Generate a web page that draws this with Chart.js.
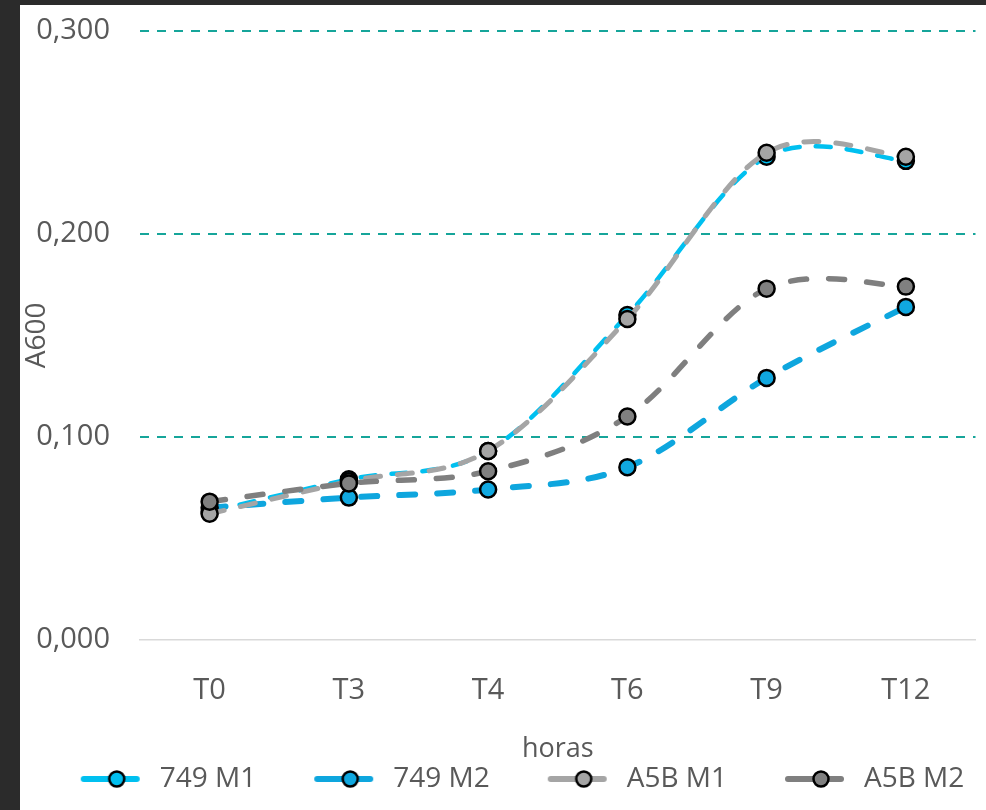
<!DOCTYPE html>
<html>
<head>
<meta charset="utf-8">
<script src="https://cdn.jsdelivr.net/npm/chart.js@4.4.1/dist/chart.umd.min.js"></script>
<style>
  html, body { margin: 0; padding: 0; background: #2b2b2b; width: 986px; height: 810px; overflow: hidden; }
  #box { position: absolute; left: 20px; top: 5px; width: 966px; height: 805px; background: #ffffff; }
  canvas { display: block; }
</style>
</head>
<body>
<div id="box"><canvas id="c" width="966" height="805"></canvas></div>
<script>
const categories = ["T0", "T3", "T4", "T6", "T9", "T12"];
const s749M1 = [0.063, 0.079, 0.093, 0.160, 0.238, 0.236];
const s749M2 = [0.065, 0.070, 0.074, 0.085, 0.129, 0.164];
const sA5BM1 = [0.062, 0.078, 0.093, 0.158, 0.240, 0.238];
const sA5BM2 = [0.068, 0.077, 0.083, 0.110, 0.173, 0.174];
const yTicks = [0, 0.1, 0.2, 0.3];

const FONT = "'Open Sans', sans-serif";
const TXT = "#595959";

// legend icon: transparent lead-in, line segment with circle marker
function legendIcon(lineColor, fill, lw) {
  const cv = document.createElement('canvas');
  cv.width = 113; cv.height = 24;
  const g = cv.getContext('2d');
  g.strokeStyle = lineColor; g.lineWidth = lw; g.lineCap = 'round';
  g.beginPath(); g.moveTo(51, 12); g.lineTo(104, 12); g.stroke();
  g.beginPath(); g.arc(84, 12, 7.5, 0, Math.PI * 2);
  g.fillStyle = fill; g.fill();
  g.lineWidth = 2.5; g.strokeStyle = '#000'; g.stroke();
  return cv;
}

function ds(label, data, line, fill, dash, lw) {
  return {
    label, data,
    borderColor: line, backgroundColor: fill,
    borderWidth: lw, borderDash: dash, borderCapStyle: 'round',
    tension: 0.4,
    pointRadius: 8, pointBorderWidth: 2.5, pointBorderColor: '#000',
    pointBackgroundColor: fill, pointHoverRadius: 8,
    fill: false,
    _icon: legendIcon(line, fill, 6)
  };
}

const datasets = [
  ds("A5B M2", sA5BM2, "#7f7f7f", "#808080", [16, 22], 5.5),
  ds("A5B M1", sA5BM1, "#a5a5a5", "#a5a5a5", [15, 17], 5),
  ds("749 M2", s749M2, "#0ea6de", "#10a8e0", [16, 22], 6),
  ds("749 M1", s749M1, "#00c0f0", "#00bff0", [15, 16], 4.5)
];

// uniform Catmull-Rom style smoothing (like spreadsheet smoothed lines)
const smoothPlugin = {
  id: 'smoothCR',
  beforeDatasetDraw(chart, args) {
    const line = args.meta.dataset;
    if (!line) return;
    line.updateControlPoints(chart.chartArea, 'x');
    const pts = args.meta.data;
    const n = pts.length;
    for (let i = 0; i < n; i++) {
      const p = pts[i];
      const prev = pts[Math.max(0, i - 1)];
      const next = pts[Math.min(n - 1, i + 1)];
      const dx = (next.x - prev.x) / 6, dy = (next.y - prev.y) / 6;
      p.cp1x = p.x - dx; p.cp1y = p.y - dy;
      p.cp2x = p.x + dx; p.cp2y = p.y + dy;
    }
  }
};

new Chart(document.getElementById('c'), {
  type: 'line',
  data: { labels: categories, datasets },
  plugins: [smoothPlugin],
  options: {
    responsive: false,
    animation: false,
    devicePixelRatio: 1,
    layout: { padding: { top: 26, right: 9, left: 0, bottom: 7 } },
    plugins: {
      tooltip: { enabled: false },
      legend: {
        position: 'bottom',
        reverse: true,
        labels: {
          usePointStyle: true,
          pointStyleWidth: 113,
          padding: 10,
          color: TXT,
          font: { family: FONT, size: 28 },
          generateLabels(chart) {
            return chart.data.datasets.map((d, i) => ({
              text: d.label,
              pointStyle: d._icon,
              fillStyle: d.backgroundColor,
              strokeStyle: d.borderColor,
              lineWidth: 0,
              hidden: false,
              datasetIndex: i,
              fontColor: TXT
            }));
          }
        }
      }
    },
    scales: {
      x: {
        type: 'category',
        offset: true,
        grid: { display: false, drawTicks: false },
        border: { display: true, color: '#d9d9d9', width: 1.5 },
        ticks: { color: TXT, font: { family: FONT, size: 29 }, padding: 33.6 },
        title: { display: true, text: 'horas', color: TXT, font: { family: FONT, size: 27 }, padding: { top: -8, bottom: -11 } }
      },
      y: {
        min: 0, max: 0.3,
        afterBuildTicks(scale) { scale.ticks = yTicks.map(v => ({ value: v })); },
        afterFit(scale) { scale.width = 120; scale.paddingTop = 0; scale.paddingBottom = 0; },
        grid: {
          drawTicks: false,
          color: ctx => (ctx.tick && ctx.tick.value === 0) ? 'rgba(0,0,0,0)' : '#16a59a',
          lineWidth: 2
        },
        border: { display: false, dash: [9, 8] },
        ticks: {
          color: TXT, font: { family: FONT, size: 29 }, padding: 30,
          callback: v => Number(v).toFixed(3).replace('.', ',')
        },
        title: { display: true, text: 'A600', color: TXT, font: { family: FONT, size: 28 }, padding: { top: 0, bottom: 4 } }
      }
    }
  }
});
</script>
</body>
</html>
